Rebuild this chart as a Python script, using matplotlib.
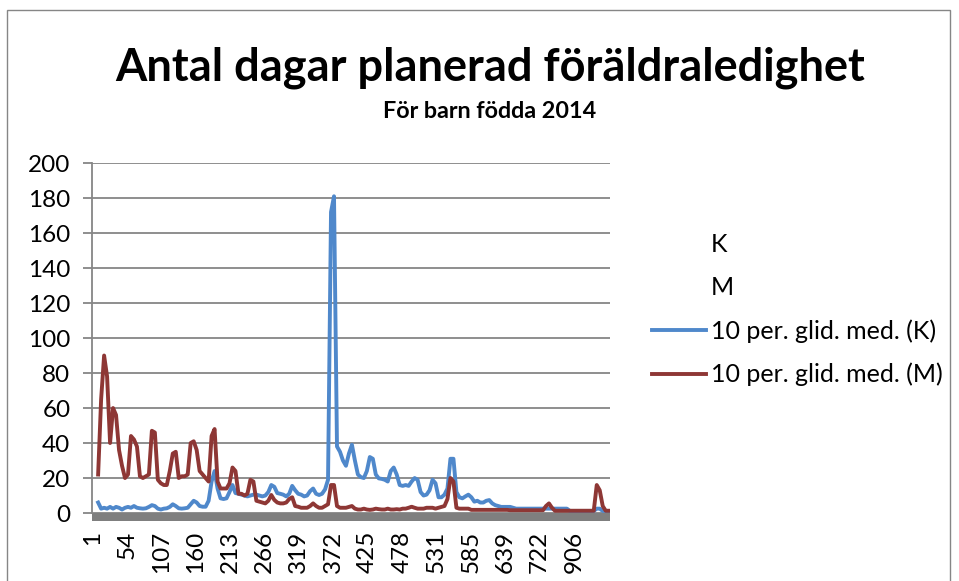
import numpy as np
import matplotlib.pyplot as plt
from matplotlib.lines import Line2D
from matplotlib.patches import Rectangle

# 10-perioders glidande medelvärde, avläst ungefär var 4,6:e kategori
# (medelvärdet börjar vid kategori 10, dvs index 9)
start = 9
steg = 4.6
n_kat = 798

k_med = [6, 2.5, 3, 2.5, 3.5, 2.5, 3.5, 3, 2, 3,
         3.5, 3, 4, 3, 2.7, 2.5, 2.7, 3.5, 4.5, 4,
         2.5, 2, 2.5, 2.7, 3.5, 5, 4, 2.7, 2.5, 2.7,
         3, 5, 7, 6, 4, 3.6, 3.6, 7, 18, 24,
         14, 8.4, 8, 8.4, 12, 16, 11.4, 11, 10.5, 10,
         9.5, 10, 10.5, 10.5, 10, 9.5, 10, 12, 16, 15,
         11.4, 11, 10.5, 9.5, 11, 15.5, 13, 11, 10.5, 9.5,
         10, 12.5, 14, 11, 10.3, 11, 13.5, 19, 172, 181,
         38, 35, 30, 27, 34, 39, 30, 22, 20.5, 20,
         24, 32, 31, 22, 19.8, 19.5, 19, 18, 24, 26,
         22, 16, 15.5, 16, 15.5, 18, 20, 19, 12, 10,
         10.5, 13, 19, 17, 9, 9, 10.5, 14, 31, 31,
         12, 9, 8.4, 9.5, 10.5, 9, 6.5, 7, 6, 6,
         7, 7.4, 5.5, 4.5, 4, 3.5, 3.5, 3.5, 3.5, 3,
         2.5, 2.5, 2.5, 2.5, 2.5, 2.5, 2.5, 2.5, 2.5, 2.5,
         2.5, 2.5, 2.5, 2.5, 2.5, 2.5, 2.5, 2.5, 1.2, 1.2,
         1.2, 1.2, 1.2, 1.2, 1.2, 1.2, 1.2, 2.5, 2.5, 1.2,
         1.2, 1.2]

m_med = [22, 65, 90, 78, 40, 60, 56, 36, 27, 20,
         22, 44, 42, 38, 21, 20, 21, 22, 47, 46,
         19, 17, 16, 16, 24, 34, 35, 20, 21, 21,
         22, 40, 41, 36, 24, 22, 20, 18, 44, 48,
         18, 14, 14, 14, 17, 26, 24, 11, 11, 10,
         11, 19, 18, 7, 6.5, 6, 5.5, 7, 10.3, 7.5,
         6, 5.5, 5.5, 6, 8, 9, 4, 3.6, 3, 3,
         3, 4, 5.5, 4, 3, 3, 4, 5, 16, 16,
         4, 3, 3, 3, 3.5, 4, 2.5, 2, 2, 2.5,
         2, 1.8, 2, 2.5, 2.2, 2, 2, 2.5, 2, 2,
         2.2, 2, 2.5, 2.5, 3, 3.6, 3, 2.5, 2.5, 2.5,
         3, 3, 3, 2.5, 3, 3.5, 4, 8, 20, 18,
         3, 2.5, 2.5, 2.5, 2.5, 1.8, 1.8, 1.8, 1.8, 1.8,
         1.8, 1.8, 1.8, 1.8, 1.8, 1.8, 1.8, 1.8, 1.6, 1.6,
         1.6, 1.6, 1.6, 1.6, 1.6, 1.6, 1.6, 1.6, 1.6, 1.6,
         4, 5.5, 3, 1.3, 1.3, 1.3, 1.3, 1.3, 1.3, 1.3,
         1.3, 1.3, 1.3, 1.3, 1.3, 1.3, 1.3, 16, 13, 4,
         1.3, 1.3]

x_labels = ['1', '54', '107', '160', '213', '266', '319', '372',
            '425', '478', '531', '585', '639', '722', '906']
label_step = 53

blue = '#4F88CB'
red = '#8E3735'
grey = '#868686'
plt.rcParams['font.family'] = ['Lato', 'DejaVu Sans']

fig = plt.figure(figsize=(9.59, 5.81), dpi=100)
ax = fig.add_axes([0.0959, 0.117, 0.5401, 0.6024])

x = start + np.arange(len(k_med)) * steg
ax.plot(x, k_med, color=blue, lw=2.8, solid_joinstyle='round')
ax.plot(x, m_med, color=red, lw=2.8, solid_joinstyle='round')

ax.set_ylim(0, 200)
ax.set_xlim(-0.5, n_kat - 0.5)
ax.set_yticks(range(0, 201, 20))
ax.set_xticks(np.arange(len(x_labels)) * label_step)
ax.set_xticklabels(x_labels, rotation=90, va='top')
ax.grid(axis='y', color=grey, lw=1.3)
ax.set_axisbelow(True)
for s in ['top', 'right', 'bottom']:
    ax.spines[s].set_visible(False)
ax.spines['left'].set_color(grey)
ax.spines['left'].set_linewidth(1.3)
ax.tick_params(axis='y', length=6.5, width=1.3, color=grey, pad=9, labelsize=17.5)
ax.tick_params(axis='x', length=0, pad=13, labelsize=17.5)

# grå list under nollinjen
ax.add_patch(Rectangle((0, -0.023), 1, 0.023, transform=ax.transAxes,
                       color='#7F7F7F', clip_on=False, lw=0))

handles = [Line2D([], [], color='none'), Line2D([], [], color='none'),
           Line2D([], [], color=blue, lw=2.8), Line2D([], [], color=red, lw=2.8)]
labels = ['K', 'M', '10 per. glid. med. (K)', '10 per. glid. med. (M)']
fig.legend(handles, labels, loc='center left', bbox_to_anchor=(0.6799, 0.4673),
           frameon=False, fontsize=18, handlelength=2.15, handletextpad=0.2,
           labelspacing=0.81, borderpad=0, borderaxespad=0)

fig.text(0.511, 1 - 68 / 581, 'Antal dagar planerad föräldraledighet',
         ha='center', va='center', fontsize=32.5, weight='bold')
fig.text(0.511, 1 - 112 / 581, 'För barn födda 2014',
         ha='center', va='center', fontsize=16.8, weight='bold')

fig.patches.append(Rectangle((7 / 959, -0.1), 943 / 959, 1.1 - 10 / 581,
                             transform=fig.transFigure, fill=False,
                             edgecolor=grey, lw=1))

fig.savefig('out.png', dpi=100)
